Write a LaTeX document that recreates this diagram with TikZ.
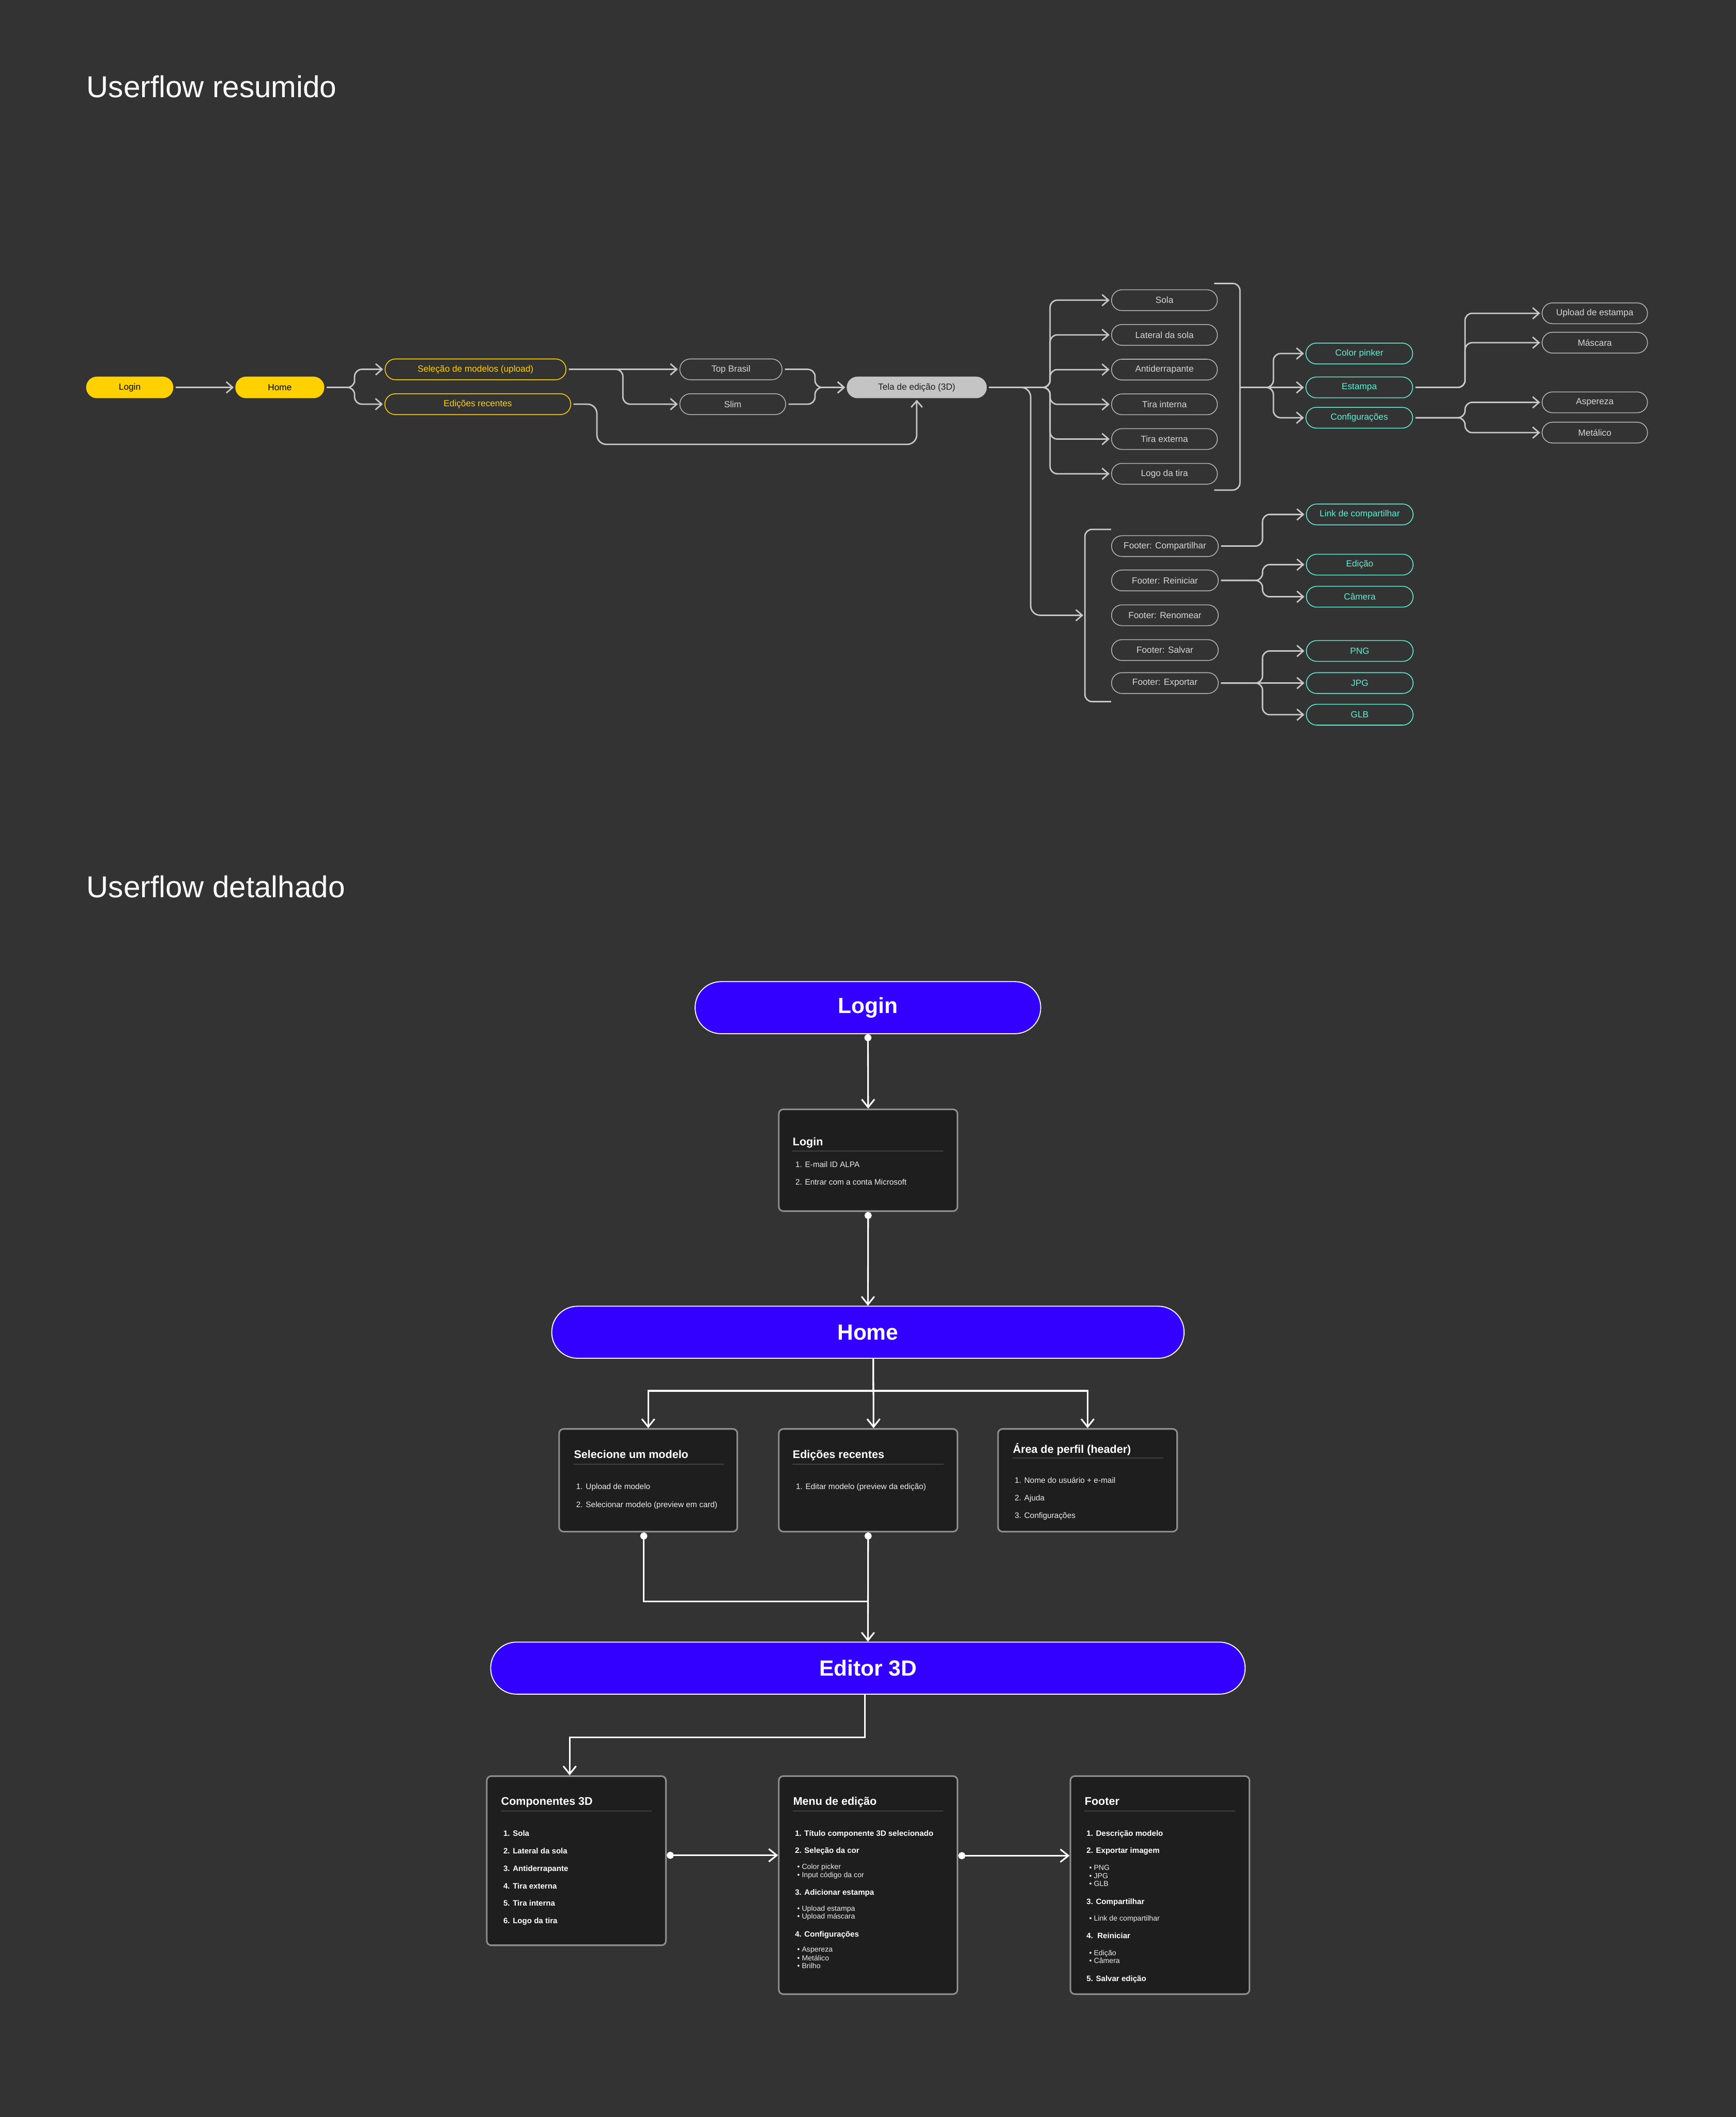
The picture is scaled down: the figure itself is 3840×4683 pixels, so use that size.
\documentclass[tikz,border=0pt]{standalone}
\usepackage{fontspec}
\setmainfont{Liberation Sans}
\usetikzlibrary{arrows.meta,positioning}
\definecolor{FlowBg}{HTML}{333333}
\definecolor{FlowYellow}{HTML}{FFD100}
\definecolor{FlowTeal}{HTML}{5EF0D4}
\definecolor{FlowViolet}{HTML}{3300FF}
\definecolor{LinkGray}{HTML}{C8C8C8}
\definecolor{NodeLine}{HTML}{B4B4B4}
\definecolor{LabelGray}{HTML}{D6D6D6}
\definecolor{TelaGray}{HTML}{C4C4C4}
\definecolor{CardFill}{HTML}{1E1E1E}
\definecolor{CardLine}{HTML}{8E8E8E}
\definecolor{SepLine}{HTML}{404040}
\definecolor{ItemWhite}{HTML}{EDEDED}
\tikzset{
  pill/.style={rectangle,rounded corners=0.23cm,draw=NodeLine,line width=0.5pt,minimum width=2.34cm,minimum height=0.46cm,inner sep=0pt,text=LabelGray,font=\fontsize{5.6}{6.7}\selectfont},
  yellowfill/.style={pill,draw=FlowYellow,fill=FlowYellow,text=black},
  yellowline/.style={pill,draw=FlowYellow,text=FlowYellow},
  telapill/.style={pill,draw=TelaGray,fill=TelaGray,text=CardFill},
  tealpill/.style={pill,draw=FlowTeal,text=FlowTeal,minimum width=2.36cm},
  arrow/.style={-{Straight Barb[length=4pt,width=7pt]},line width=0.9pt,color=LinkGray,rounded corners=4.5pt,shorten <=1.5pt,shorten >=1pt},
  bracket/.style={line width=0.9pt,color=LinkGray,rounded corners=4.5pt},
  heading/.style={anchor=base west,inner sep=0pt,text=white,font=\fontsize{19}{23}\selectfont},
  bigpill/.style={rectangle,rounded corners=0.57cm,draw=white,line width=0.6pt,fill=FlowViolet,minimum height=1.15cm,text=white,font=\bfseries\fontsize{13.8}{16}\selectfont},
  card/.style={rectangle,rounded corners=2.8pt,draw=CardLine,line width=1pt,fill=CardFill},
  sepline/.style={line width=0.5pt,color=SepLine},
  cardtitle/.style={anchor=base west,inner sep=0pt,text=white,font=\bfseries\fontsize{7}{8.4}\selectfont},
  carditem/.style={anchor=base west,inner sep=0pt,text=ItemWhite,font=\fontsize{5}{6}\selectfont},
  cardbold/.style={anchor=base west,inner sep=0pt,text=white,font=\bfseries\fontsize{4.9}{5.9}\selectfont},
  cardbullet/.style={anchor=base west,inner sep=0pt,text=ItemWhite,font=\fontsize{4.6}{5.5}\selectfont},
  flow/.style={-{Straight Barb[length=5pt,width=8pt]},line width=1pt,color=white},
  dotflow/.style={{Circle[length=4.5pt]}-{Straight Barb[length=5pt,width=8pt]},line width=1pt,color=white},
  dotline/.style={{Circle[length=4.5pt]}-,line width=1pt,color=white},
}

\begin{document}
\begin{tikzpicture}[x=0.01cm,y=-0.01cm]
  \fill[FlowBg] (0,0) rectangle (3840,4683);
  \useasboundingbox (0,0) rectangle (3840,4683);

  % Titles
  \node[heading] (titleRes) at (191,215) {Userflow resumido};
  \node[heading] (titleDet) at (191,1985) {Userflow detalhado};

  % Userflow resumido: entry
  \node[yellowfill, minimum width=1.91cm] (login) at (287,857) {Login};
  \node[yellowfill, minimum width=1.95cm] (home) at (619,857) {Home};
  \node[yellowline, minimum width=4cm] (sel) at (1052,817) {Seleção de modelos (upload)};
  \node[yellowline, minimum width=4.11cm] (edi) at (1057,894) {Edições recentes};
  \node[pill, minimum width=2.26cm] (topb) at (1617,817) {Top Brasil};
  \node[pill] (slim) at (1621,894) {Slim};
  \node[telapill, minimum width=3.08cm] (tela) at (2028,857) {Tela de edição (3D)};

  % Componentes
  \node[pill] (sola) at (2576,664) {Sola};
  \node[pill, below=0.29cm of sola] (lateral) {Lateral da sola};
  \node[pill, below=0.29cm of lateral] (anti) {Antiderrapante};
  \node[pill, below=0.29cm of anti] (tint) {Tira interna};
  \node[pill, below=0.29cm of tint] (text) {Tira externa};
  \node[pill, below=0.29cm of text] (logo) {Logo da tira};

  % Menu de edicao
  \node[tealpill] (cpick) at (3007,782) {Color pinker};
  \node[tealpill] (estam) at (3007,857) {Estampa};
  \node[tealpill] (config) at (3007,924) {Configurações};
  \node[pill, minimum width=2.33cm] (upl) at (3528,693) {Upload de estampa};
  \node[pill, minimum width=2.33cm] (masc) at (3528,758) {Máscara};
  \node[pill, minimum width=2.33cm] (asp) at (3528,890) {Aspereza};
  \node[pill, minimum width=2.33cm] (met) at (3528,957) {Metálico};

  % Footer
  \node[pill, minimum width=2.36cm] (fcomp) at (2577,1208) {Footer: Compartilhar};
  \node[pill, minimum width=2.36cm] (frein) at (2577,1284) {Footer: Reiniciar};
  \node[pill, minimum width=2.36cm] (fren) at (2577,1361) {Footer: Renomear};
  \node[pill, minimum width=2.36cm] (fsalv) at (2577,1438) {Footer: Salvar};
  \node[pill, minimum width=2.36cm] (fexp) at (2577,1511) {Footer: Exportar};
  \node[tealpill] (lnk) at (3008,1138) {Link de compartilhar};
  \node[tealpill] (edic) at (3008,1249) {Edição};
  \node[tealpill] (cam) at (3008,1320) {Câmera};
  \node[tealpill] (png) at (3008,1440) {PNG};
  \node[tealpill] (jpg) at (3008,1511) {JPG};
  \node[tealpill] (glb) at (3008,1581) {GLB};

  % Brackets
  \draw[bracket] (2686,627) -- (2743,627) -- (2743,1084) -- (2686,1084);
  \draw[bracket] (2458,1171) -- (2400,1171) -- (2400,1552) -- (2458,1552);
  \coordinate (cbr) at (2743,857);
  \coordinate (fbr) at (2400,1361);

  % Arrows resumido
  \draw[arrow] (login) -- (home);
  \draw[arrow] (home.east) -- ++(67,0) |- (sel.west);
  \draw[arrow] (home.east) -- ++(67,0) |- (edi.west);
  \draw[arrow] (sel.east) -- (topb.west);
  \draw[arrow] (sel.east) -- ++(125,0) |- (slim.west);
  \draw[arrow] (topb.east) -- ++(72,0) |- (tela.west);
  \draw[arrow] (slim.east) -- ++(64,0) |- (tela.west);
  \draw[arrow, rounded corners=6pt] (edi.east) -| ++(57,89) -| (tela.south);

  \draw[arrow] (tela.east) -- ++(140,0) |- (sola.west);
  \draw[arrow] (tela.east) -- ++(140,0) |- (lateral.west);
  \draw[arrow] (tela.east) -- ++(140,0) |- (anti.west);
  \draw[arrow] (tela.east) -- ++(140,0) |- (tint.west);
  \draw[arrow] (tela.east) -- ++(140,0) |- (text.west);
  \draw[arrow] (tela.east) -- ++(140,0) |- (logo.west);
  \draw[arrow, rounded corners=6pt] (tela.east) -- ++(97,0) |- (fbr);

  \draw[arrow, shorten <=0pt] (cbr) -- ++(74,0) |- (cpick.west);
  \draw[arrow, shorten <=0pt] (cbr) -- (estam.west);
  \draw[arrow, shorten <=0pt] (cbr) -- ++(74,0) |- (config.west);
  \draw[arrow] (estam.east) -- ++(115,0) |- (upl.west);
  \draw[arrow] (estam.east) -- ++(115,0) |- (masc.west);
  \draw[arrow] (config.east) -- ++(115,0) |- (asp.west);
  \draw[arrow] (config.east) -- ++(115,0) |- (met.west);

  \draw[arrow] (fcomp.east) -- ++(97,0) |- (lnk.west);
  \draw[arrow] (frein.east) -- ++(97,0) |- (edic.west);
  \draw[arrow] (frein.east) -- ++(97,0) |- (cam.west);
  \draw[arrow] (fexp.east) -- ++(97,0) |- (png.west);
  \draw[arrow] (fexp.east) -- (jpg.west);
  \draw[arrow] (fexp.east) -- ++(97,0) |- (glb.west);

  % Userflow detalhado
  \node[bigpill, minimum width=7.64cm] (bLogin) at (1920,2229) {Login};
  \node[card, minimum width=3.95cm, minimum height=2.25cm] (cLogin) at (1920.5,2566.5) {};
  \node[bigpill, minimum width=13.98cm] (bHome) at (1920,2947) {Home};
  \node[card, minimum width=3.94cm, minimum height=2.27cm] (cSel) at (1434,3274.5) {};
  \node[card, minimum width=3.95cm, minimum height=2.27cm] (cEdi) at (1920.5,3274.5) {};
  \node[card, minimum width=3.96cm, minimum height=2.27cm] (cPerf) at (2406,3274.5) {};
  \node[bigpill, minimum width=16.68cm] (bEditor) at (1920,3690) {Editor 3D};
  \node[card, minimum width=3.96cm, minimum height=3.74cm] (cComp) at (1275,4116) {};
  \node[card, minimum width=3.95cm, minimum height=4.82cm] (cMenu) at (1920.5,4170) {};
  \node[card, minimum width=3.96cm, minimum height=4.82cm] (cFoot) at (2566,4170) {};

  % Card Login
  \node[cardtitle] (cLoginT) at (1753,2534) {Login};
  \draw[sepline] (1753,2546) -- (2087,2546);
  \node[carditem] (cLogin1) at (1759,2582) {1. E-mail ID ALPA};
  \node[carditem] (cLogin2) at (1759,2621) {2. Entrar com a conta Microsoft};

  % Cards Home
  \node[cardtitle] (cSelT) at (1269,3226) {Selecione um modelo};
  \draw[sepline] (1269,3239) -- (1602,3239);
  \node[carditem] (cSel1) at (1274,3294) {1. Upload de modelo};
  \node[carditem] (cSel2) at (1274,3334) {2. Selecionar modelo (preview em card)};

  \node[cardtitle] (cEdiT) at (1753,3226) {Edições recentes};
  \draw[sepline] (1753,3239) -- (2088,3239);
  \node[carditem] (cEdi1) at (1760,3294) {1. Editar modelo (preview da edição)};

  \node[cardtitle] (cPerfT) at (2240,3214) {Área de perfil (header)};
  \draw[sepline] (2240,3225) -- (2573,3225);
  \node[carditem] (cPerf1) at (2244,3281) {1. Nome do usuário + e-mail};
  \node[carditem] (cPerf2) at (2244,3319) {2. Ajuda};
  \node[carditem] (cPerf3) at (2244,3358) {3. Configurações};

  % Card Componentes 3D
  \node[cardtitle] (cCompT) at (1108,3993) {Componentes 3D};
  \draw[sepline] (1108,4006) -- (1442,4006);
  \node[cardbold] (cComp1) at (1113,4061) {1. Sola};
  \node[cardbold] (cComp2) at (1113,4100) {2. Lateral da sola};
  \node[cardbold] (cComp3) at (1113,4139) {3. Antiderrapante};
  \node[cardbold] (cComp4) at (1113,4178) {4. Tira externa};
  \node[cardbold] (cComp5) at (1113,4216) {5. Tira interna};
  \node[cardbold] (cComp6) at (1113,4255) {6. Logo da tira};

  % Card Menu de edicao
  \node[cardtitle] (cMenuT) at (1754,3993) {Menu de edição};
  \draw[sepline] (1754,4006) -- (2087,4006);
  \node[cardbold] (cMenu1) at (1758,4061) {1. Título componente 3D selecionado};
  \node[cardbold] (cMenu2) at (1758,4099) {2. Seleção da cor};
  \node[cardbullet] (cMenu2a) at (1763,4135) {• Color picker};
  \node[cardbullet] (cMenu2b) at (1763,4153) {• Input código da cor};
  \node[cardbold] (cMenu3) at (1758,4192) {3. Adicionar estampa};
  \node[cardbullet] (cMenu3a) at (1763,4227) {• Upload estampa};
  \node[cardbullet] (cMenu3b) at (1763,4244) {• Upload máscara};
  \node[cardbold] (cMenu4) at (1758,4284) {4. Configurações};
  \node[cardbullet] (cMenu4a) at (1763,4318) {• Aspereza};
  \node[cardbullet] (cMenu4b) at (1763,4337) {• Metálico};
  \node[cardbullet] (cMenu4c) at (1763,4354) {• Brilho};

  % Card Footer
  \node[cardtitle] (cFootT) at (2399,3993) {Footer};
  \draw[sepline] (2399,4006) -- (2733,4006);
  \node[cardbold] (cFoot1) at (2403,4061) {1. Descrição modelo};
  \node[cardbold] (cFoot2) at (2403,4099) {2. Exportar imagem};
  \node[cardbullet] (cFoot2a) at (2409,4137) {• PNG};
  \node[cardbullet] (cFoot2b) at (2409,4155) {• JPG};
  \node[cardbullet] (cFoot2c) at (2409,4173) {• GLB};
  \node[cardbold] (cFoot3) at (2403,4212) {3. Compartilhar};
  \node[cardbullet] (cFoot3a) at (2409,4249) {• Link de compartilhar};
  \node[cardbold] (cFoot4) at (2403,4288) {4.\ \ Reiniciar};
  \node[cardbullet] (cFoot4a) at (2409,4326) {• Edição};
  \node[cardbullet] (cFoot4b) at (2409,4343) {• Câmera};
  \node[cardbold] (cFoot5) at (2403,4383) {5. Salvar edição};

  % Flow detalhado
  \coordinate (jn) at (1920,3543);
  \draw[dotflow] (bLogin.south) -- (cLogin.north);
  \draw[dotflow] (cLogin.south) -- (bHome.north);
  \draw[flow] ([xshift=3.4pt]bHome.south) -- ([xshift=3.4pt]cEdi.north);
  \draw[flow] ([xshift=3.4pt]bHome.south) -- ++(0,71) -| (cSel.north);
  \draw[flow] ([xshift=3.4pt]bHome.south) -- ++(0,71) -| (cPerf.north);
  \draw[dotline] ([xshift=-2.8pt]cSel.south) |- (jn);
  \draw[dotflow] (cEdi.south) -- (bEditor.north);
  \draw[flow] ([xshift=-2pt]bEditor.south) -- ++(0,95) -| ([xshift=-4.2pt]cComp.north);
  \draw[dotflow] ([yshift=3.4pt]cComp.east) -- ([yshift=3.4pt]cComp.east -| cMenu.west);
  \draw[dotflow] ([yshift=18.5pt]cMenu.east) -- ([yshift=18.5pt]cMenu.east -| cFoot.west);

\end{tikzpicture}
\end{document}
